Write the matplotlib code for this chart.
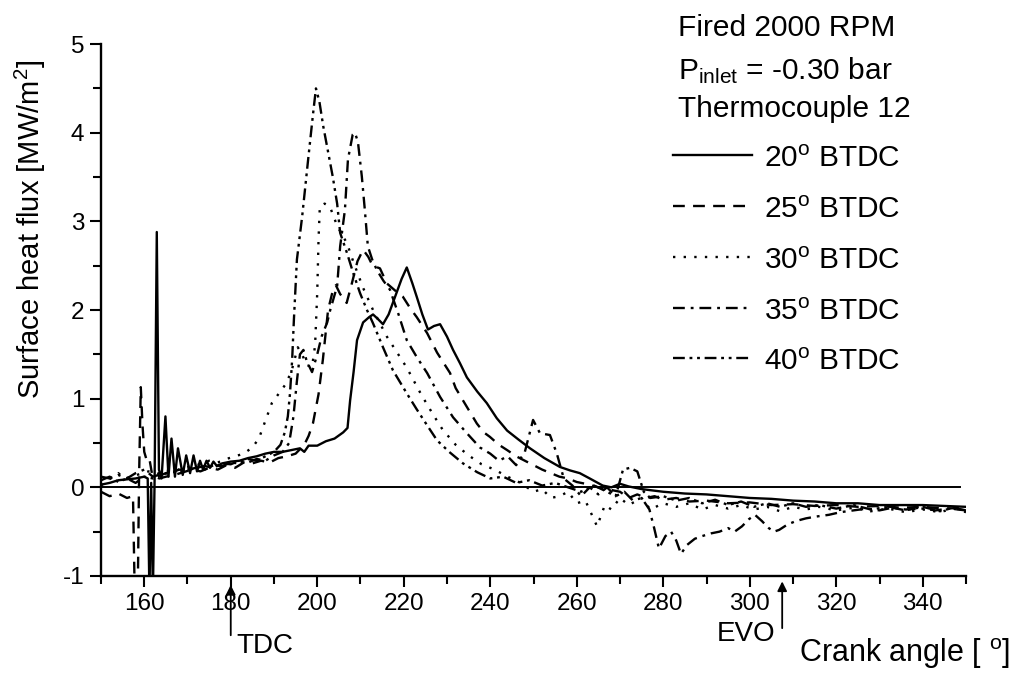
import numpy as np
import matplotlib
matplotlib.use("Agg")
import matplotlib.pyplot as plt
from matplotlib.lines import Line2D
from matplotlib.ticker import MultipleLocator

plt.rcParams["font.family"] = ["Liberation Sans", "DejaVu Sans"]
plt.rcParams["mathtext.fontset"] = "custom"
plt.rcParams["mathtext.rm"] = "Liberation Sans"
plt.rcParams["mathtext.it"] = "Liberation Sans:italic"
plt.rcParams["mathtext.bf"] = "Liberation Sans:bold"
plt.rcParams["axes.unicode_minus"] = False

# crank angle [deg], surface heat flux [MW/m^2] per spark timing
flux_20 = np.array([
    (150, 0.03), (152, 0.05), (154, 0.08), (156, 0.09), (158, 0.10), (160, 0.12),
    (160.8, 0.10), (161.2, -1.2), (161.6, 0.05), (162.0, -1.2), (162.4, 0.10),
    (162.9, 2.88), (163.4, 0.20), (164.0, 0.10), (164.9, 0.80), (165.6, 0.12),
    (166.3, 0.55), (167.1, 0.12), (167.8, 0.44), (168.9, 0.14), (169.7, 0.36),
    (170.6, 0.16), (171.4, 0.36), (172.2, 0.18), (172.9, 0.30), (173.6, 0.20),
    (174.4, 0.30), (175.2, 0.22), (176.0, 0.29), (176.8, 0.24), (178, 0.27),
    (180, 0.29), (182, 0.30), (184, 0.33), (186, 0.35), (188, 0.38), (190, 0.40),
    (192, 0.40), (194, 0.42), (196, 0.44), (197, 0.40), (198, 0.47), (200, 0.47),
    (202, 0.52), (204, 0.55), (206, 0.62), (207, 0.67), (207.6, 0.98), (208.4, 1.30),
    (209.2, 1.66), (210.6, 1.86), (212, 1.92), (212.9, 1.95), (214, 1.90),
    (215.2, 1.84), (216.5, 1.95), (218, 2.15), (219.5, 2.35), (220.7, 2.48),
    (222, 2.30), (223, 2.15), (224.3, 1.95), (225.6, 1.78), (227, 1.82),
    (228.4, 1.84), (230, 1.70), (231.4, 1.55), (233, 1.40), (234.6, 1.24),
    (237, 1.08), (239.2, 0.95), (241.5, 0.78), (243.9, 0.64), (246.5, 0.54),
    (249.2, 0.44), (252.5, 0.33), (256.1, 0.23), (258.5, 0.19), (260.7, 0.16),
    (263, 0.10), (266, 0.02), (268, 0.00), (270, 0.04), (272, 0.01), (275, -0.02),
    (280, -0.05), (285, -0.07), (290, -0.08), (295, -0.10), (300, -0.12),
    (305, -0.13), (310, -0.15), (315, -0.16), (320, -0.18), (325, -0.18),
    (330, -0.20), (335, -0.20), (340, -0.20), (345, -0.21), (350, -0.22),
])

flux_25 = np.array([
    (150, -0.05), (152, -0.10), (154, -0.07), (156, -0.12), (157.4, -0.10),
    (157.8, -1.2), (158.5, -1.2), (158.8, 0.10), (159.2, 1.13), (159.6, 0.70),
    (160, 0.40), (160.6, 0.30), (161.2, 0.32), (161.8, 0.15), (162.5, 0.12),
    (163.5, 0.10), (165, 0.12), (167, 0.14), (169, 0.17), (171, 0.20), (173, 0.18),
    (175, 0.22), (177, 0.20), (179, 0.25), (181, 0.22), (183, 0.28), (185, 0.27),
    (187, 0.30), (189, 0.28), (191, 0.33), (193, 0.35), (195, 0.38), (197, 0.48),
    (198, 0.58), (199, 0.72), (200.3, 1.05), (201.3, 1.44), (202.5, 2.00),
    (203.5, 2.20), (204.3, 2.28), (205.3, 2.18), (206.8, 2.08), (208, 2.30),
    (209.3, 2.55), (210.6, 2.68), (211.8, 2.60), (212.8, 2.50), (214.5, 2.47),
    (216.1, 2.30), (218, 2.22), (219.8, 2.15), (221.5, 2.02), (223, 1.92),
    (225.4, 1.74), (227.7, 1.52), (229, 1.42), (230.7, 1.29), (232, 1.12),
    (233.7, 0.98), (235.3, 0.85), (236.9, 0.72), (238.5, 0.62), (239.9, 0.57),
    (242, 0.48), (243.9, 0.42), (246, 0.35), (248, 0.30), (250, 0.25), (252, 0.20),
    (254, 0.16), (256, 0.12), (258, 0.10), (260, 0.06), (262, 0.04), (265, 0.00),
    (268, -0.03), (270, -0.05), (272, -0.12), (274, -0.08), (276, -0.12),
    (278, -0.10), (280, -0.14), (283, -0.12), (286, -0.16), (290, -0.15),
    (295, -0.18), (300, -0.17), (305, -0.20), (310, -0.19), (315, -0.21),
    (320, -0.20), (325, -0.22), (330, -0.21), (335, -0.23), (340, -0.22),
    (345, -0.24), (350, -0.23),
])

flux_30 = np.array([
    (150, 0.02), (151.5, 0.08), (153, 0.12), (154, 0.16), (155.5, 0.10), (157, 0.12),
    (159, 0.15), (161, 0.18), (163, 0.15), (165, 0.20), (167, 0.18), (169, 0.22),
    (171, 0.24), (173, 0.26), (175, 0.30), (177, 0.28), (179, 0.32), (181, 0.35),
    (183, 0.38), (185, 0.45), (186.5, 0.55), (188, 0.75), (189.5, 0.95),
    (191, 1.05), (192.5, 1.15), (194, 1.30), (195.5, 1.58), (196.5, 1.50),
    (197.5, 1.38), (198.8, 1.36), (199.5, 1.60), (200, 2.20), (200.3, 2.80),
    (200.6, 3.17), (201.7, 3.20), (202.9, 3.17), (204.6, 2.95), (206.9, 2.75),
    (208.3, 2.55), (210.6, 2.25), (212.9, 2.00), (216.1, 1.70), (220.7, 1.35),
    (224, 1.05), (226.8, 0.82), (229, 0.65), (232, 0.48), (235, 0.36), (238, 0.26),
    (241, 0.20), (244, 0.12), (247, 0.05), (250, -0.05), (252, -0.02), (254, -0.12),
    (256, -0.10), (258, -0.05), (260, -0.18), (262, -0.15), (264.7, -0.44),
    (266.5, -0.20), (268, -0.25), (270, -0.12), (272, -0.20), (275, -0.12),
    (277, -0.25), (280, -0.18), (283, -0.22), (286, -0.18), (289, -0.25),
    (292, -0.20), (295, -0.24), (298, -0.20), (301, -0.25), (304, -0.22),
    (307, -0.27), (310, -0.22), (313, -0.25), (316, -0.22), (320, -0.26),
    (324, -0.23), (328, -0.27), (332, -0.24), (336, -0.28), (340, -0.25),
    (344, -0.28), (347, -0.24), (350, -0.28),
])

flux_35 = np.array([
    (150, 0.12), (152, 0.10), (154, 0.14), (156, 0.10), (158, 0.16), (160, 0.20),
    (162, 0.12), (164, 0.15), (166, 0.16), (168, 0.20), (170, 0.19), (172, 0.22),
    (174, 0.24), (176, 0.22), (178, 0.27), (180, 0.26), (182, 0.30), (184, 0.28),
    (186, 0.32), (188, 0.30), (190, 0.36), (192, 0.40), (193.5, 0.50),
    (194.5, 0.80), (195.3, 1.20), (196, 1.50), (196.8, 1.55), (197.6, 1.42),
    (198.8, 1.30), (200, 1.50), (201, 1.70), (202.3, 1.86), (203, 2.00),
    (204.6, 2.27), (205.3, 2.72), (206.4, 3.13), (207.1, 3.70), (208.2, 3.98),
    (208.7, 4.00), (209.4, 3.90), (210.3, 3.51), (211, 3.13), (211.7, 2.72),
    (212.7, 2.57), (213.8, 2.45), (215.3, 2.33), (216.8, 2.23), (218.8, 1.95),
    (220.7, 1.66), (223, 1.47), (225.4, 1.29), (228.4, 1.02), (231.4, 0.79),
    (234.6, 0.61), (237.6, 0.45), (240, 0.38), (242, 0.30), (244, 0.35),
    (246, 0.25), (248, 0.40), (249.9, 0.76), (251.5, 0.61), (253.8, 0.59),
    (255.4, 0.38), (257, 0.10), (259, 0.02), (261, -0.10), (263, 0.00),
    (265, -0.08), (267, 0.00), (269, -0.10), (271, -0.05), (273, -0.15),
    (275, -0.12), (276.8, -0.25), (277.9, -0.46), (279, -0.69), (280.5, -0.55),
    (281.8, -0.50), (283, -0.60), (284.1, -0.75), (285.5, -0.65), (287.3, -0.58),
    (289, -0.55), (291, -0.52), (293, -0.50), (295, -0.46), (296.5, -0.50),
    (298.2, -0.44), (299.8, -0.36), (301.2, -0.31), (302.8, -0.38),
    (304.4, -0.46), (305.6, -0.50), (306.8, -0.48), (308.7, -0.42),
    (310.7, -0.38), (313, -0.35), (315.3, -0.33), (318.3, -0.31), (321, -0.28),
    (324, -0.26), (327, -0.24), (330, -0.26), (333, -0.23), (336, -0.25),
    (340, -0.24), (343, -0.26), (346, -0.24), (350, -0.26),
])

flux_40 = np.array([
    (150, 0.08), (152, 0.12), (154, 0.06), (156, 0.10), (158, 0.05), (160, 0.12),
    (162, 0.10), (164, 0.14), (166, 0.18), (168, 0.16), (170, 0.20), (172, 0.22),
    (174, 0.20), (176, 0.25), (178, 0.24), (180, 0.28), (182, 0.27), (184, 0.32),
    (186, 0.30), (188, 0.35), (190, 0.40), (191.5, 0.48), (192.5, 0.62),
    (193.2, 0.80), (193.7, 1.06), (194.2, 1.44), (194.6, 1.89), (195.3, 2.57),
    (196.5, 3.05), (197.9, 3.70), (199, 4.20), (199.7, 4.50), (200.5, 4.35),
    (201.4, 4.07), (203.6, 3.50), (204.6, 3.20), (205.3, 2.87), (206.9, 2.64),
    (208.3, 2.42), (209.9, 2.19), (211.5, 2.00), (212.9, 1.85), (215.2, 1.58),
    (217.5, 1.32), (220.7, 1.06), (223, 0.88), (225.4, 0.70), (227.7, 0.53),
    (230.5, 0.40), (233.7, 0.27), (237, 0.17), (240, 0.10), (243, 0.12),
    (246, 0.05), (249, 0.08), (252, 0.02), (255, 0.05), (258, 0.00), (261, -0.05),
    (264, 0.02), (267, -0.05), (269, -0.10), (270.7, 0.20), (272.3, 0.22),
    (274, 0.18), (275.5, -0.05), (277, -0.12), (280, -0.10), (283, -0.15),
    (286, -0.12), (289, -0.18), (292, -0.14), (295, -0.20), (298, -0.16),
    (301, -0.22), (304, -0.18), (307, -0.22), (310, -0.18), (313, -0.22),
    (316, -0.20), (320, -0.24), (324, -0.20), (328, -0.25), (332, -0.22),
    (336, -0.26), (340, -0.22), (344, -0.27), (347, -0.23), (350, -0.26),
])

timings = ["20", "25", "30", "35", "40"]
series = [flux_20, flux_25, flux_30, flux_35, flux_40]
styles = [
    "-",
    (0, (5, 3.5)),
    (0, (1, 3.5)),
    (0, (5, 2.5, 1.2, 2.5)),
    (0, (5, 2, 1.2, 2, 1.2, 2)),
]
TDC, EVO = 180, 307.5
LW = 1.7

fig = plt.figure(figsize=(10.16, 6.75), dpi=100)
ax = fig.add_axes([0.0994, 0.1467, 0.8514, 0.788])

for data, ls in zip(series, styles):
    ax.plot(data[:, 0], data[:, 1], color="k", lw=LW, ls=ls)
ax.axhline(0, xmin=0, xmax=0.993, color="k", lw=1.4)

ax.set_xlim(150, 350)
ax.set_ylim(-1, 5)
ax.xaxis.set_major_locator(MultipleLocator(20))
ax.xaxis.set_minor_locator(MultipleLocator(10))
ax.yaxis.set_major_locator(MultipleLocator(1))
ax.yaxis.set_minor_locator(MultipleLocator(0.5))
ax.set_xticks(np.arange(160, 341, 20))
for side in ("top", "right"):
    ax.spines[side].set_visible(False)
for side in ("left", "bottom"):
    ax.spines[side].set_linewidth(1.7)
ax.tick_params(which="both", direction="out", width=1.5, labelsize=17.5)
ax.tick_params(which="major", length=8, pad=4)
ax.tick_params(which="minor", length=6)

fig.text(30 / 1016, 1 - 229 / 675, r"Surface heat flux [MW/m$^{\mathrm{2}}$]",
         rotation=90, ha="center", va="center", fontsize=21)

# TDC / EVO markers under the axis
arrow = dict(arrowstyle="-|>", color="k", lw=1.3, mutation_scale=14)
ax.annotate("", xy=(TDC, -1.07), xytext=(TDC, -1.7), arrowprops=arrow,
            annotation_clip=False)
ax.text(TDC + 1.2, -1.79, "TDC", ha="left", va="center", fontsize=20, clip_on=False)
ax.annotate("", xy=(EVO, -1.03), xytext=(EVO, -1.62), arrowprops=arrow,
            annotation_clip=False)
ax.text(EVO - 1.5, -1.66, "EVO", ha="right", va="center", fontsize=20, clip_on=False)
ax.text(311.5, -1.88, r"Crank angle [ $^{\mathrm{o}}$]", ha="left", va="center",
        fontsize=22, clip_on=False)

# condition block and line key, top right
fs = 21.5
x_txt = 678 / 1016
fig.text(x_txt, 1 - 36 / 675, "Fired 2000 RPM", fontsize=fs, va="baseline")
fig.text(x_txt, 1 - 79 / 675, r"P$_{\mathrm{inlet}}$ = -0.30 bar", fontsize=fs,
         va="baseline")
fig.text(x_txt, 1 - 117 / 675, "Thermocouple 12", fontsize=fs, va="baseline")

row_y = [155, 206, 257, 308, 358]
for t, ls, py in zip(timings, styles, row_y):
    y = 1 - py / 675
    fig.add_artist(Line2D([673 / 1016, 752 / 1016], [y, y], color="k", lw=LW,
                          ls=ls, transform=fig.transFigure))
    fig.text(764 / 1016, y - 12 / 675, rf"{t}$^{{\mathrm{{o}}}}$ BTDC",
             fontsize=fs, va="baseline")

fig.savefig("out.png", dpi=100)
